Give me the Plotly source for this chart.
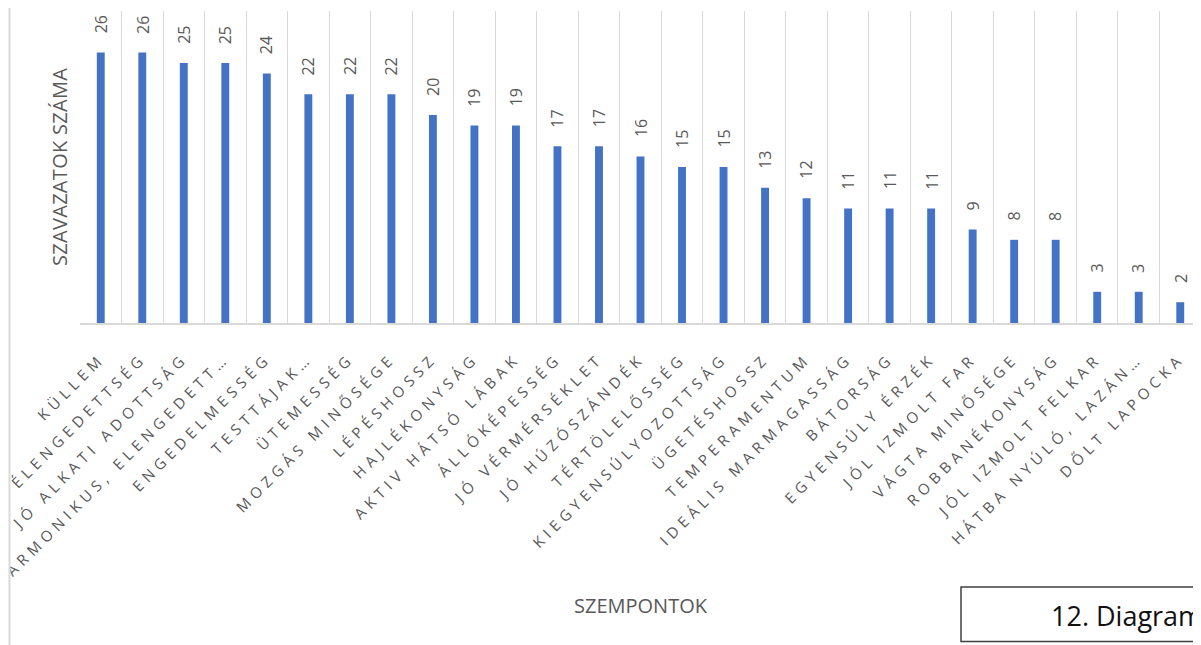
import plotly.graph_objects as go

categories = [
    "KÜLLEM", "ÉLENGEDETTSÉG", "JÓ ALKATI ADOTTSÁG", "HARMONIKUS, ELENGEDETT…",
    "ENGEDELMESSÉG", "TESTTÁJAK…", "ÜTEMESSÉG", "MOZGÁS MINŐSÉGE", "LÉPÉSHOSSZ",
    "HAJLÉKONYSÁG", "AKTIV HÁTSÓ LÁBAK", "ÁLLÓKÉPESSÉG", "JÓ VÉRMÉRSÉKLET",
    "JÓ HÚZÓSZÁNDÉK", "TÉRTÖLELŐSSÉG", "KIEGYENSÚLYOZOTTSÁG", "ÜGETÉSHOSSZ",
    "TEMPERAMENTUM", "IDEÁLIS MARMAGASSÁG", "BÁTORSÁG", "EGYENSÚLY ÉRZÉK",
    "JÓL IZMOLT FAR", "VÁGTA MINŐSÉGE", "ROBBANÉKONYSÁG", "JÓL IZMOLT FELKAR",
    "HÁTBA NYÚLÓ, LAZÁN…", "DŐLT LAPOCKA",
]
votes = [26, 26, 25, 25, 24, 22, 22, 22, 20, 19, 19, 17, 17, 16, 15, 15, 13,
         12, 11, 11, 11, 9, 8, 8, 3, 3, 2]

y_title = "SZAVAZATOK SZÁMA"
x_title = "SZEMPONTOK"
caption = "12. Diagram"

# page body has an 8px margin; work in window pixel coordinates
OFF = 8
W, H = 1201 - OFF, 645 - OFF
L, R, T = 80 - OFF, 0, 11 - OFF
B = H - (323 - OFF)
PW = W - L - R
PH = H - T - B

def px_x(wx):
    return (wx - OFF - L) / PW

def px_y(wy):
    return (H - B - (wy - OFF)) / PH

FONT = "Open Sans"
GREY = "#595959"

idx = list(range(len(categories)))
tick_html = ['<span style="letter-spacing:5px">' + c + '</span>' for c in categories]

fig = go.Figure()
fig.add_trace(go.Bar(
    x=idx, y=votes, width=0.19,
    marker=dict(color="#4472C4", line=dict(width=0)),
    hoverinfo="x+y",
))

annotations = []
for i, v in zip(idx, votes):
    annotations.append(dict(
        x=i, y=v, xref="x", yref="y", text=str(v), showarrow=False,
        textangle=-90, xanchor="center", yanchor="bottom", yshift=17,
        font=dict(family=FONT, size=16, color=GREY),
    ))

annotations.append(dict(
    x=px_x(59), y=px_y(167), xref="paper", yref="paper",
    text='<span style="letter-spacing:0.3px">' + y_title + '</span>',
    showarrow=False, textangle=-90, xanchor="center", yanchor="middle",
    font=dict(family=FONT, size=20, color=GREY),
))
annotations.append(dict(
    x=px_x(641), y=px_y(605), xref="paper", yref="paper", text=x_title,
    showarrow=False, xanchor="center", yanchor="middle",
    font=dict(family=FONT, size=20, color=GREY),
))
annotations.append(dict(
    x=px_x(1049), y=px_y(615), xref="paper", yref="paper", text=caption,
    showarrow=False, xanchor="left", yanchor="middle",
    font=dict(family=FONT, size=27, color="#111111"),
))

shapes = [
    # white mask over the clipped left ends of the labels
    dict(type="rect", xref="paper", yref="paper", layer="above",
         x0=px_x(-300), x1=px_x(9), y0=px_y(700), y1=px_y(-50),
         fillcolor="white", line=dict(width=0)),
    # chart border line
    dict(type="line", xref="paper", yref="paper", layer="above",
         x0=px_x(9.5), x1=px_x(9.5), y0=px_y(0), y1=px_y(660),
         line=dict(color="#D9D9D9", width=2)),
    # caption box
    dict(type="rect", xref="paper", yref="paper", layer="below",
         x0=px_x(961), x1=px_x(1400), y0=px_y(641.5), y1=px_y(587),
         fillcolor="white", line=dict(color="#404040", width=1.5)),
]

fig.update_layout(
    width=W, height=H,
    margin=dict(l=L, r=R, t=T, b=B, pad=0, autoexpand=False),
    paper_bgcolor="white", plot_bgcolor="white",
    showlegend=False,
    annotations=annotations,
    shapes=shapes,
    font=dict(family=FONT, color=GREY),
    xaxis=dict(
        type="linear", range=[-0.5, len(categories) - 0.5],
        tickmode="array", tickvals=idx, ticktext=tick_html,
        tickangle=-45, tickfont=dict(family=FONT, size=15, color=GREY),
        ticklabeloverflow="allow", automargin=False,
        showgrid=False, zeroline=False,
        showline=True, linecolor="#D9D9D9", linewidth=1.5,
        ticks="", ticklabelstandoff=19,
        minor=dict(tickvals=[i - 0.5 for i in range(len(categories) + 1)],
                   showgrid=True, gridcolor="#D9D9D9", gridwidth=1.2),
    ),
    yaxis=dict(
        range=[0, 30], showticklabels=False, showgrid=False, automargin=False,
        zeroline=False, showline=False, ticks="",
    ),
)

fig.write_html("out.html")
